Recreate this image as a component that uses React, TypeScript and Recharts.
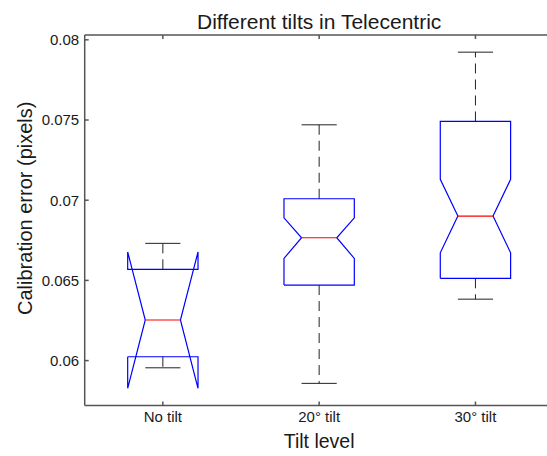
import React from 'react';
import { ComposedChart, XAxis, YAxis, Scatter } from 'recharts';

const categories = ['No tilt', '20° tilt', '30° tilt'];
const upperWhisker = [0.06731, 0.0747, 0.07923];
const q3 = [0.06569, 0.07009, 0.07491];
const notchHigh = [0.06677, 0.0689, 0.0713];
const median = [0.06253, 0.06766, 0.06901];
const notchLow = [0.05827, 0.06637, 0.06672];
const q1 = [0.06024, 0.06471, 0.06513];
const lowerWhisker = [0.05955, 0.05858, 0.06383];
const yTicks = [0.06, 0.065, 0.07, 0.075, 0.08];

const BOX_HALF = 0.225;
const NOTCH_HALF = 0.1125;
const CAP_HALF = 0.1125;

const CHART_W = 556;
const CHART_H = 448;
const M_LEFT = 0;
const M_RIGHT = 10.4;
const Y_W = 76.7;

const FONT = 'Liberation Sans, Arial, Helvetica, sans-serif';
const AXIS = '#555555';
const TEXT = '#1a1a1a';

const hidden = () => <g />;

function boxOutline(i: number) {
  const c = i + 1;
  const l = c - BOX_HALF;
  const r = c + BOX_HALF;
  return [
    { x: l, y: q1[i] },
    { x: l, y: notchLow[i] },
    { x: c - NOTCH_HALF, y: median[i] },
    { x: l, y: notchHigh[i] },
    { x: l, y: q3[i] },
    { x: r, y: q3[i] },
    { x: r, y: notchHigh[i] },
    { x: c + NOTCH_HALF, y: median[i] },
    { x: r, y: notchLow[i] },
    { x: r, y: q1[i] },
    { x: l, y: q1[i] },
  ];
}

export default function App() {
  const series: React.ReactNode[] = [];
  categories.forEach((_, i) => {
    const c = i + 1;
    series.push(
      <Scatter key={`uw${i}`} data={[{ x: c, y: q3[i] }, { x: c, y: upperWhisker[i] }]} dataKey="y"
        line={{ stroke: '#222', strokeWidth: 1, strokeDasharray: '10 6' }} shape={hidden} isAnimationActive={false} />,
      <Scatter key={`lw${i}`} data={[{ x: c, y: q1[i] }, { x: c, y: lowerWhisker[i] }]} dataKey="y"
        line={{ stroke: '#222', strokeWidth: 1, strokeDasharray: '10 6' }} shape={hidden} isAnimationActive={false} />,
      <Scatter key={`uc${i}`} data={[{ x: c - CAP_HALF, y: upperWhisker[i] }, { x: c + CAP_HALF, y: upperWhisker[i] }]} dataKey="y"
        line={{ stroke: '#222', strokeWidth: 1 }} shape={hidden} isAnimationActive={false} />,
      <Scatter key={`lc${i}`} data={[{ x: c - CAP_HALF, y: lowerWhisker[i] }, { x: c + CAP_HALF, y: lowerWhisker[i] }]} dataKey="y"
        line={{ stroke: '#222', strokeWidth: 1 }} shape={hidden} isAnimationActive={false} />,
      <Scatter key={`bx${i}`} data={boxOutline(i)} dataKey="y"
        line={{ stroke: '#0000ff', strokeWidth: 1.2 }} shape={hidden} isAnimationActive={false} />,
      <Scatter key={`md${i}`} data={[{ x: c - NOTCH_HALF, y: median[i] }, { x: c + NOTCH_HALF, y: median[i] }]} dataKey="y"
        line={{ stroke: '#ff0000', strokeWidth: 1.2 }} shape={hidden} isAnimationActive={false} />
    );
  });

  const plotCenterX = M_LEFT + Y_W + (CHART_W - M_LEFT - Y_W - M_RIGHT) / 2;

  return (
    <div style={{ position: 'fixed', left: 8, top: 8, width: 539, height: 448, overflow: 'hidden', background: '#fff' }}>
      <ComposedChart width={CHART_W} height={CHART_H} margin={{ top: 26, right: M_RIGHT, bottom: 0, left: M_LEFT }}>
        <XAxis
          xAxisId={0}
          type="number"
          dataKey="x"
          domain={[0.5, 3.5]}
          ticks={[1, 2, 3]}
          tickFormatter={(v: number) => categories[Math.round(v) - 1] ?? ''}
          height={50.5}
          tickSize={-4}
          tickMargin={10}
          stroke={AXIS}
          strokeWidth={1.5}
          tick={{ fill: TEXT, fontSize: 15, fontFamily: FONT }}
          allowDataOverflow
          label={{
            content: (p: any) => {
              const vb = p.viewBox || {};
              return (
                <text x={vb.x + vb.width / 2} y={vb.y + 42} textAnchor="middle" fontSize={19.5} fontFamily={FONT} fill={TEXT}>
                  Tilt level
                </text>
              );
            },
          }}
        />
        <XAxis
          xAxisId="top"
          orientation="top"
          type="number"
          dataKey="x"
          domain={[0.5, 3.5]}
          ticks={[1, 2, 3]}
          tickFormatter={() => ''}
          height={1}
          tickSize={-4}
          tickMargin={0}
          stroke={AXIS}
          strokeWidth={1.5}
          allowDataOverflow
        />
        <YAxis
          type="number"
          domain={[0.0572, 0.0803]}
          ticks={yTicks}
          tickFormatter={(v: number) => String(v)}
          width={Y_W}
          tickSize={-4}
          tickMargin={9.5}
          stroke={AXIS}
          strokeWidth={1.5}
          tick={{ fill: TEXT, fontSize: 15, fontFamily: FONT }}
          allowDataOverflow
          label={{
            content: (p: any) => {
              const vb = p.viewBox || {};
              const cx = 16.5;
              const cy = vb.y + vb.height / 2 - 12;
              return (
                <g>
                  <text x={cx} y={cy} transform={`rotate(-90 ${cx} ${cy})`} textAnchor="middle" dominantBaseline="central"
                    fontSize={20} fontFamily={FONT} fill={TEXT}>
                    Calibration error (pixels)
                  </text>
                  <text x={plotCenterX} y={vb.y - 6} textAnchor="middle" fontSize={21} fontFamily={FONT} fill={TEXT}>
                    Different tilts in Telecentric
                  </text>
                </g>
              );
            },
          }}
        />
        <Scatter xAxisId="top" data={[{ x: 1, y: median[0] }]} dataKey="y" shape={hidden} isAnimationActive={false} />
        {series}
      </ComposedChart>
    </div>
  );
}
